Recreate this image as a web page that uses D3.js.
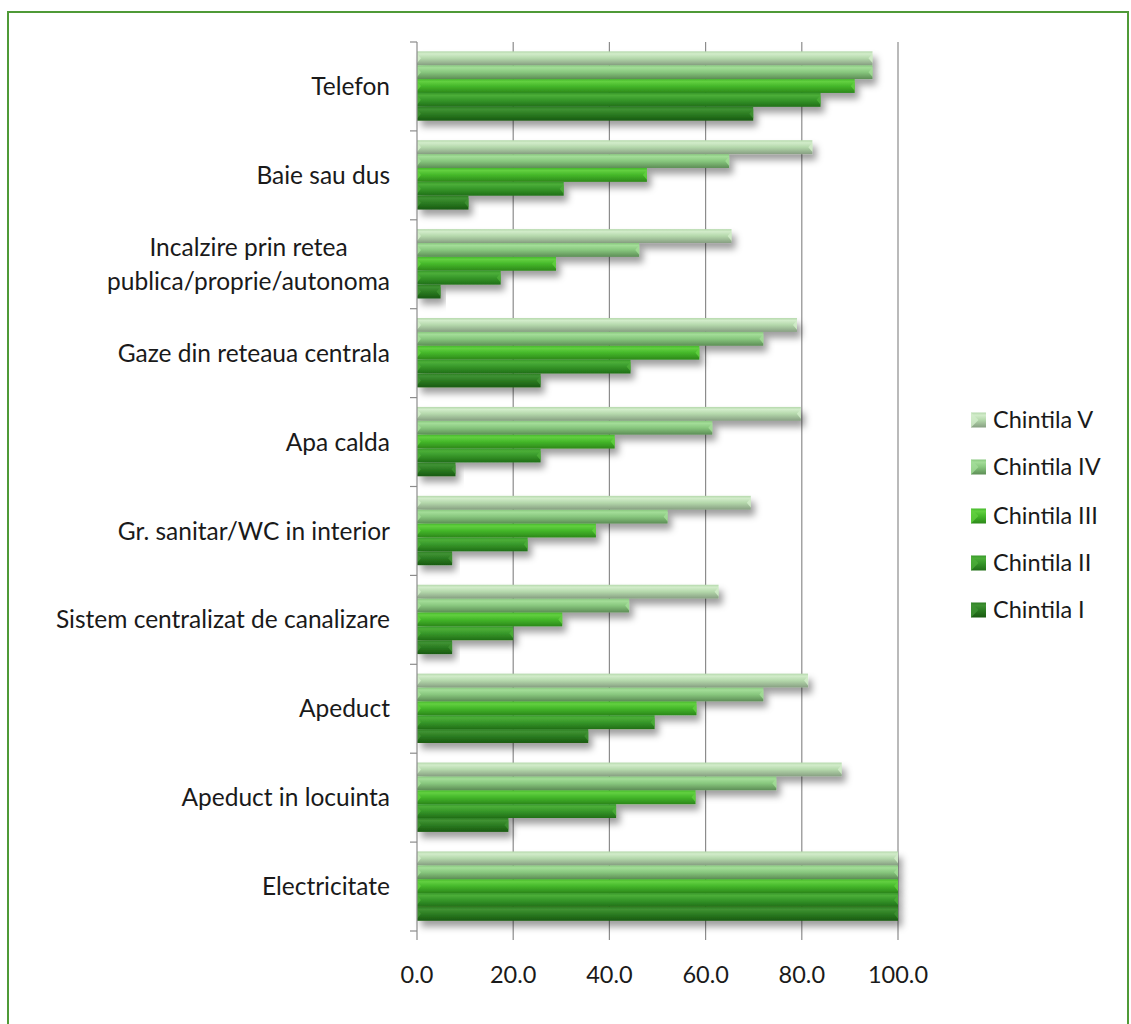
<!DOCTYPE html>
<html>
<head>
<meta charset="utf-8">
<script src="https://cdn.jsdelivr.net/npm/d3@7/dist/d3.min.js"></script>
<style>
  html, body { margin: 0; padding: 0; background: #ffffff; }
  svg { display: block; }
  text { font-family: Lato, "Open Sans", sans-serif; fill: #1a1a1a; }
</style>
</head>
<body>
<svg id="chart" width="1131" height="1024"></svg>
<script>
// ---- data ----
const categories = [
  "Telefon",
  "Baie sau dus",
  "Incalzire prin retea\npublica/proprie/autonoma",
  "Gaze din reteaua centrala",
  "Apa calda",
  "Gr. sanitar/WC in interior",
  "Sistem centralizat de canalizare",
  "Apeduct",
  "Apeduct in locuinta",
  "Electricitate"
];
const seriesNames = ["Chintila V", "Chintila IV", "Chintila III", "Chintila II", "Chintila I"];
const chintilaV   = [94.7, 82.2, 65.4, 79.0, 79.8, 69.4, 62.7, 81.3, 88.3, 100.0];
const chintilaIV  = [94.7, 64.9, 46.2, 72.0, 61.4, 52.1, 44.1, 72.0, 74.7, 100.0];
const chintilaIII = [91.0, 47.8, 28.9, 58.7, 41.1, 37.2, 30.2, 58.1, 57.9, 100.0];
const chintilaII  = [83.9, 30.5, 17.4, 44.4, 25.7, 23.0, 20.0, 49.4, 41.4, 100.0];
const chintilaI   = [69.9, 10.7,  4.9, 25.7,  8.0,  7.3,  7.3, 35.6, 19.0, 100.0];
const tickValues = [0, 20, 40, 60, 80, 100];

const seriesValues = [chintilaV, chintilaIV, chintilaIII, chintilaII, chintilaI];
const seriesColors = [
  { top: "#d2ecca", mid: "#b4d8ab", bot: "#879f82" },
  { top: "#a3dd98", mid: "#88c77e", bot: "#5d8d56" },
  { top: "#62d040", mid: "#45b82a", bot: "#2c881a" },
  { top: "#4cae38", mid: "#37982a", bot: "#216f17" },
  { top: "#3f9233", mid: "#2c7d22", bot: "#195a10" }
];

const svg = d3.select("#chart");
const defs = svg.append("defs");

// frame
svg.append("rect")
  .attr("x", 8).attr("y", 12).attr("width", 1120).attr("height", 1040)
  .attr("fill", "none").attr("stroke", "#4f9a37").attr("stroke-width", 2);

// gradients
seriesColors.forEach((c, i) => {
  const g = defs.append("linearGradient").attr("id", "g" + i)
    .attr("x1", 0).attr("y1", 0).attr("x2", 0).attr("y2", 1);
  g.append("stop").attr("offset", "0%").attr("stop-color", c.mid);
  g.append("stop").attr("offset", "18%").attr("stop-color", c.top);
  g.append("stop").attr("offset", "50%").attr("stop-color", c.mid);
  g.append("stop").attr("offset", "100%").attr("stop-color", c.bot);
});
const f = defs.append("filter").attr("id", "shadow")
  .attr("x", "-10%").attr("y", "-50%").attr("width", "130%").attr("height", "250%");
f.append("feDropShadow").attr("dx", 4).attr("dy", 6).attr("stdDeviation", 3.5)
  .attr("flood-color", "#000").attr("flood-opacity", 0.38);

// scales
const x = d3.scaleLinear().domain([0, 100]).range([417, 898]);
const y0 = d3.scaleBand().domain(categories).range([42, 931]).padding(0);
const y1 = d3.scaleBand().domain(seriesNames)
  .range([y0.bandwidth() * 0.105, y0.bandwidth() * 0.885]).padding(0);

// gridlines
svg.append("g").selectAll("line").data(tickValues.slice(1)).join("line")
  .attr("x1", d => x(d)).attr("x2", d => x(d))
  .attr("y1", 42).attr("y2", 940)
  .attr("stroke", "#8c8c8c").attr("stroke-width", 1.2);

// bars
const groups = svg.append("g").selectAll("g").data(categories).join("g")
  .attr("transform", d => `translate(0,${y0(d)})`);

groups.each(function(cat, ci) {
  const g = d3.select(this);
  seriesNames.forEach((s, si) => {
    const v = seriesValues[si][ci];
    const by = y1(s), bh = y1.bandwidth();
    const bx = x(0), bw = x(v) - x(0);
    g.append("rect")
      .attr("x", bx).attr("y", by).attr("width", bw).attr("height", bh)
      .attr("fill", `url(#g${si})`).attr("filter", "url(#shadow)");
    const c = seriesColors[si];
    const tri = 4;
    g.append("path")
      .attr("d", `M${bx},${by + bh * 0.15} L${bx + tri},${by + bh / 2} L${bx},${by + bh * 0.85} Z`)
      .attr("fill", c.top).attr("opacity", 0.85);
    g.append("path")
      .attr("d", `M${bx + bw},${by + bh * 0.15} L${bx + bw - tri},${by + bh / 2} L${bx + bw},${by + bh * 0.85} Z`)
      .attr("fill", c.top).attr("opacity", 0.85);
  });
});

// axis lines
svg.append("line").attr("x1", 417).attr("x2", 417).attr("y1", 42).attr("y2", 940)
  .attr("stroke", "#8c8c8c").attr("stroke-width", 1.2);
const catTicks = categories.map(c => y0(c)).concat([y0(categories[categories.length - 1]) + y0.bandwidth()]);
svg.append("g").selectAll("line").data(catTicks).join("line")
  .attr("x1", 410).attr("x2", 417).attr("y1", d => d).attr("y2", d => d)
  .attr("stroke", "#8c8c8c").attr("stroke-width", 1.2);

// x tick labels
svg.append("g").selectAll("text").data(tickValues).join("text")
  .attr("x", d => x(d)).attr("y", 983)
  .attr("text-anchor", "middle").attr("font-size", 23.5)
  .text(d => d3.format(".1f")(d));

// category labels
const labelRight = 390;
categories.forEach(c => {
  const lines = c.split("\n");
  const cy = y0(c) + y0.bandwidth() / 2;
  const lh = 34;
  const t = svg.append("g");
  const texts = lines.map((ln, i) => t.append("text")
    .attr("y", cy + (i - (lines.length - 1) / 2) * lh)
    .attr("dy", "0.35em").attr("font-size", 24.5).text(ln));
  const widths = texts.map(tx => tx.node().getComputedTextLength());
  const maxW = Math.max(...widths);
  texts.forEach(tx => tx.attr("x", labelRight - maxW / 2).attr("text-anchor", "middle"));
});

// legend
const legendY = [420, 467, 516, 563, 610];
seriesNames.forEach((s, i) => {
  const ly = legendY[i];
  svg.append("rect").attr("x", 971).attr("y", ly - 7.5).attr("width", 15).attr("height", 15)
    .attr("fill", `url(#g${i})`);
  svg.append("path")
    .attr("d", `M971,${ly - 7.5} L978.5,${ly} L971,${ly + 7.5} Z`)
    .attr("fill", seriesColors[i].top).attr("opacity", 0.8);
  svg.append("text").attr("x", 993).attr("y", ly).attr("dy", "0.35em")
    .attr("font-size", 23.5).text(s);
});
</script>
</body>
</html>
